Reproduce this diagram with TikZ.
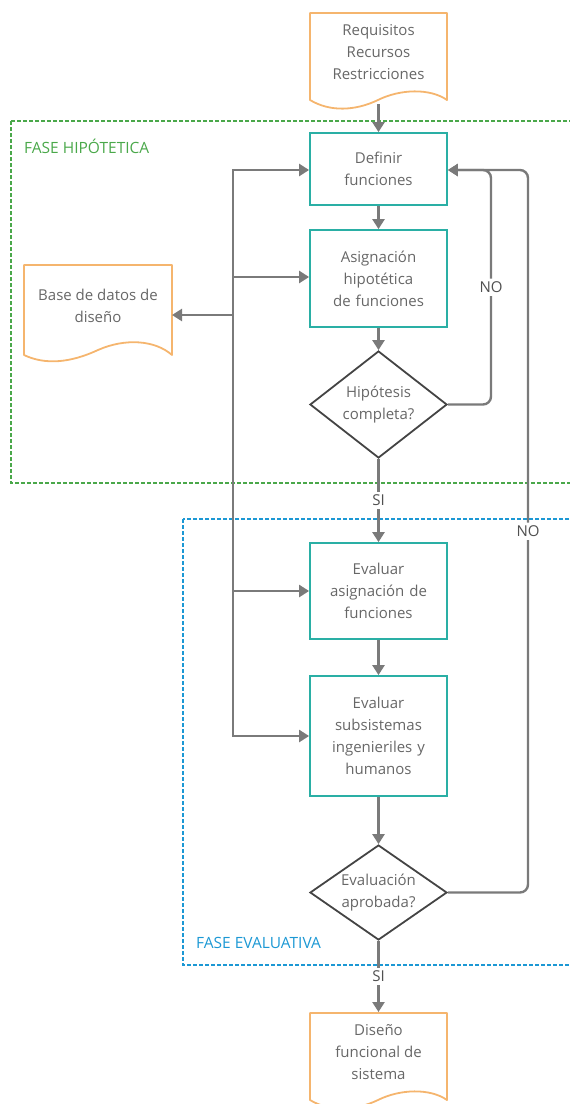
\documentclass[tikz,border=0pt]{standalone}
\usepackage{fontspec}
\setmainfont{Open Sans}
\usetikzlibrary{shapes.geometric,arrows.meta}
\definecolor{boxteal}{HTML}{2AAFA5}
\definecolor{docorange}{HTML}{F5B56E}
\definecolor{txtgray}{HTML}{676767}
\definecolor{lblgray}{HTML}{505050}
\definecolor{arrgray}{HTML}{7A7A7A}
\definecolor{dgray}{HTML}{444444}
\definecolor{phgreen}{HTML}{4AA84A}
\definecolor{phblue}{HTML}{1C98D4}
\begin{document}
\begin{tikzpicture}[x=1pt,y=-1pt,
  txt/.style={font=\fontsize{15}{22}\selectfont, text=txtgray, align=center},
  box/.style={txt, draw=boxteal, line width=1.8pt, minimum width=137pt, text width=130pt, inner sep=0pt},
  diam/.style={txt, diamond, draw=dgray, line width=1.8pt, minimum width=137pt, aspect=1.3, inner sep=0pt},
  doc/.style={draw=docorange, line width=1.8pt, line join=round},
  phase/.style={line width=1.5pt, dash pattern=on 4pt off 2pt},
  phlbl/.style={anchor=west, font=\fontsize{15.5}{17}\selectfont, inner sep=0pt},
  conn/.style={draw=arrgray, line width=2.4pt},
  arr/.style={conn, -{Triangle[width=12pt,length=10pt]}},
  lbl/.style={font=\fontsize{15}{17}\selectfont, text=lblgray, fill=white, inner sep=3pt}
]
\useasboundingbox (0,0) rectangle (570,1104);

% phase frames
\draw[phase, draw=phgreen] (11,121) rectangle (590,483);
\node[phlbl, text=phgreen] (fh) at (24,146) {FASE HIPÓTETICA};
\draw[phase, draw=phblue] (183,519) rectangle (590,965);
\node[phlbl, text=phblue] (fe) at (196,943) {FASE EVALUATIVA};

% documents
\draw[doc] (310,13) -- (447,13) -- (447,100) .. controls (430,88) and (400,89) .. (378,100) .. controls (355,111) and (330,112) .. (310,100) -- cycle;
\node[txt] (topdoc) at (378.5,52) {Requisitos\\Recursos\\Restricciones};
\coordinate (topdocb) at (378.5,104);

\draw[doc] (24,265) -- (172,265) -- (172,355) .. controls (155,340) and (125,338) .. (98,350) .. controls (70,363) and (45,365) .. (24,355) -- cycle;
\node[txt] (base) at (98,306) {Base de datos de\\diseño};
\coordinate (basee) at (172,315);

\draw[doc] (310,1013) -- (447,1013) -- (447,1100) .. controls (430,1088) and (400,1089) .. (378,1100) .. controls (355,1111) and (330,1112) .. (310,1100) -- cycle;
\node[txt] (enddoc) at (378.5,1052) {Diseño\\funcional de\\sistema};
\coordinate (enddoct) at (378.5,1012);

% process boxes
\node[box, minimum height=72pt] (def) at (378.5,169) {Definir\\funciones};
\node[box, minimum height=97pt] (asig) at (378.5,278.5) {Asignación\\hipotética\\de funciones};
\node[diam, minimum height=107pt] (d1) at (378.5,404.5) {Hipótesis\\completa?};
\node[box, minimum height=96pt] (eva) at (378.5,591) {Evaluar\\asignación de\\funciones};
\node[box, minimum height=120pt] (evs) at (378.5,736) {Evaluar\\subsistemas\\ingenieriles y\\humanos};
\node[diam, minimum height=95pt] (d2) at (378.5,892.5) {Evaluación\\aprobada?};

% main flow
\draw[arr] (topdocb) -- (def.north);
\draw[arr] (def.south) -- (asig.north);
\draw[arr] (asig.south) -- (d1.north);
\draw[arr] (d1.south) -- node[lbl] (si1) {SI} (eva.north);
\draw[arr] (eva.south) -- (evs.north);
\draw[arr] (evs.south) -- (d2.north);
\draw[arr] (d2.south) -- node[lbl] (si2) {SI} (enddoct);

% NO loops
\draw[arr, rounded corners=8pt] (d2.east) -- (528,892.5) -- node[lbl, pos=0.5] (no2) {NO} (528,170) -- (def.east |- 0,170);
\draw[arr, rounded corners=8pt] (d1.east) -- (491,404.5) -- node[lbl, pos=0.5] (no1) {NO} (491,170) -- (def.east |- 0,170);

% left spine
\coordinate (s1) at (233,170);
\coordinate (s2) at (233,277);
\coordinate (s3) at (233,315);
\coordinate (s4) at (233,591);
\coordinate (s5) at (233,736);
\draw[conn, line join=miter] (def.west |- s1) ++(-8,0) -- (s1) -- (s5) -- ++(8,0);
\draw[arr] (s1) -- (def.west |- s1);
\draw[arr] (s2) -- (asig.west |- s2);
\draw[arr] (s3) -- (basee);
\draw[arr] (s4) -- (eva.west |- s4);
\draw[arr] (s5) -- (evs.west |- s5);
\end{tikzpicture}
\end{document}
